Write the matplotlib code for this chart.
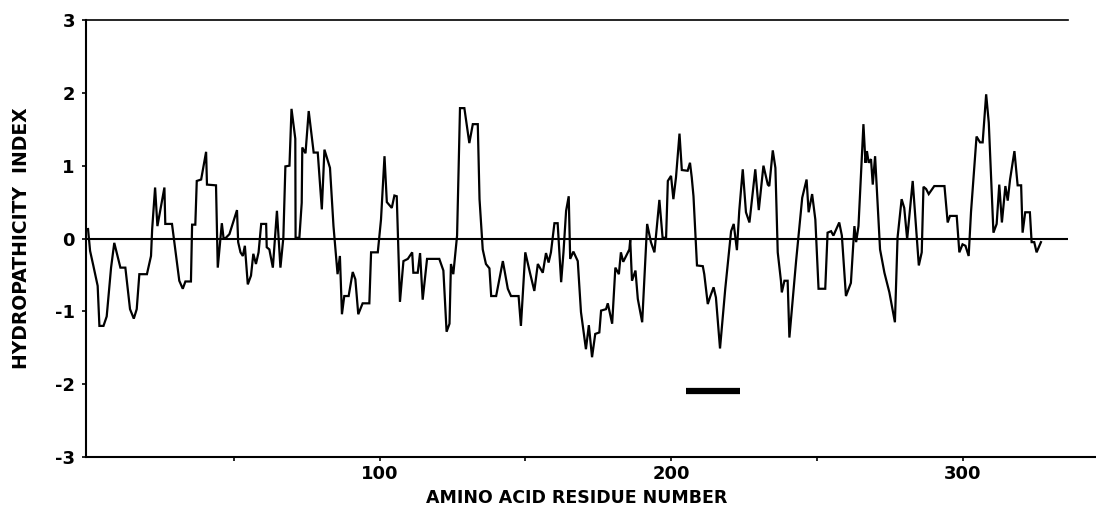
import matplotlib
matplotlib.use("Agg")
import matplotlib.pyplot as plt
from matplotlib.lines import Line2D

residue = [
    0, 0.7, 1.8, 3.3, 3.9, 5.3, 6.4, 7.9, 9.0, 11.1, 12.8, 14.4, 15.7, 16.7, 17.6, 20.2, 21.6, 22.0,
    23.0, 23.8, 26.2, 26.5, 28.8, 31.3, 32.5, 33.4, 35.3, 35.7, 36.8, 37.3, 38.8, 40.5, 40.8, 43.9,
    44.5, 45.9, 46.5, 47.3, 48.5, 51.1, 51.5, 52.3, 53.1, 53.8, 54.8, 55.9, 56.7, 57.6, 58.5, 59.4,
    61.1, 61.3, 62.2, 63.4, 64.8, 66.0, 67.0, 67.7, 69.1, 69.8, 71.1, 71.2, 72.5, 73.3, 73.5, 74.6,
    75.7, 77.4, 78.8, 80.2, 81.1, 83.0, 84.2, 85.6, 86.4, 87.1, 87.9, 89.4, 90.8, 91.7, 92.7, 94.2,
    96.5, 97.1, 99.4, 100.5, 101.7, 102.5, 104.2, 105.1, 105.9, 107.0, 108.2, 109.7, 111.2, 111.6,
    113.1, 113.9, 114.8, 116.3, 120.5, 121.9, 123.0, 124.0, 124.5, 125.3, 125.7, 126.6, 127.6, 129.1,
    130.8, 132.0, 133.7, 134.3, 135.4, 136.5, 137.7, 138.3, 140.0, 142.3, 144.0, 145.1, 147.7, 148.5,
    150.0, 151.6, 153.1, 154.3, 156.0, 157.1, 158.0, 158.8, 160.0, 161.1, 162.3, 163.1, 164.0, 164.9,
    165.4, 166.5, 168.0, 169.1, 170.8, 171.8, 172.9, 174.0, 175.4, 176.0, 177.7, 178.3, 179.8, 180.9,
    182.1, 182.8, 183.6, 185.7, 186.0, 186.6, 187.8, 188.6, 190.1, 191.8, 193.1, 194.3, 196.0, 197.1,
    198.3, 198.9, 200.0, 200.8, 201.7, 202.9, 203.7, 205.7, 206.5, 207.1, 207.7, 208.4, 208.9, 210.9,
    211.4, 212.6, 213.5, 214.6, 215.4, 216.8, 218.6, 220.6, 221.5, 222.6, 223.4, 224.6, 225.7, 226.9,
    228.9, 230.1, 231.7, 233.2, 233.7, 234.9, 235.8, 236.6, 237.7, 238.0, 238.9, 240.0, 240.6, 242.9,
    245.0, 246.5, 247.2, 248.4, 249.5, 250.6, 252.9, 253.7, 254.9, 255.7, 257.7, 258.6, 260.0, 261.7,
    262.9, 263.5, 264.3, 266.0, 266.7, 267.2, 267.8, 268.6, 269.2, 270.0, 271.7, 273.2, 274.9, 276.8,
    277.7, 279.1, 280.0, 281.0, 282.9, 285.0, 286.0, 286.6, 287.5, 288.4, 290.3, 293.8, 294.9, 295.7,
    298.0, 298.9, 300.0, 301.0, 302.1, 302.9, 304.8, 306.0, 306.9, 308.1, 309.0, 310.6, 311.7, 312.6,
    313.5, 314.7, 315.5, 316.3, 317.8, 318.9, 320.1, 320.6, 321.5, 323.1, 323.7, 324.6, 325.4, 326.9,
]
hydropathy = [
    0.13, -0.17, -0.37, -0.65, -1.2, -1.2, -1.07, -0.4, -0.06, -0.4, -0.4, -0.97, -1.1, -0.97, -0.49, -0.49, -0.24, 0.13,
    0.7, 0.17, 0.7, 0.2, 0.2, -0.58, -0.69, -0.59, -0.59, 0.19, 0.19, 0.79, 0.81, 1.19, 0.74, 0.73,
    -0.4, 0.21, 0.0, 0.01, 0.06, 0.39, -0.05, -0.19, -0.24, -0.1, -0.63, -0.51, -0.21, -0.35, -0.19, 0.2,
    0.2, -0.12, -0.15, -0.4, 0.38, -0.4, 0.01, 0.99, 1.0, 1.78, 1.37, 0.01, 0.01, 0.49, 1.25, 1.17,
    1.75, 1.18, 1.18, 0.4, 1.22, 0.97, 0.17, -0.49, -0.24, -1.04, -0.79, -0.79, -0.46, -0.56, -1.04, -0.89,
    -0.89, -0.19, -0.19, 0.26, 1.13, 0.5, 0.42, 0.59, 0.58, -0.87, -0.31, -0.28, -0.19, -0.47,
    -0.47, -0.2, -0.84, -0.28, -0.28, -0.44, -1.28, -1.17, -0.35, -0.49, -0.33, 0.04, 1.79, 1.79,
    1.31, 1.57, 1.57, 0.54, -0.15, -0.35, -0.41, -0.79, -0.79, -0.31, -0.69, -0.79, -0.79, -1.2,
    -0.19, -0.47, -0.72, -0.35, -0.47, -0.2, -0.33, -0.19, 0.21, 0.21, -0.6, -0.19, 0.38, 0.58,
    -0.28, -0.18, -0.31, -1.01, -1.52, -1.19, -1.63, -1.31, -1.29, -0.99, -0.97, -0.89, -1.17, -0.4,
    -0.49, -0.19, -0.32, -0.15, -0.02, -0.58, -0.44, -0.83, -1.15, 0.2, -0.05, -0.19, 0.53, 0.01,
    0.01, 0.79, 0.86, 0.54, 0.84, 1.44, 0.94, 0.93, 1.04, 0.84, 0.58, 0.01, -0.37, -0.38,
    -0.49, -0.9, -0.79, -0.67, -0.81, -1.51, -0.69, 0.1, 0.2, -0.16, 0.38, 0.95, 0.36, 0.22,
    0.95, 0.39, 1.0, 0.74, 0.72, 1.21, 0.97, -0.19, -0.58, -0.74, -0.58, -0.58, -1.36, -0.31,
    0.56, 0.81, 0.36, 0.61, 0.26, -0.69, -0.69, 0.08, 0.1, 0.04, 0.22, 0.04, -0.79, -0.61,
    0.17, -0.05, 0.17, 1.57, 1.04, 1.2, 1.04, 1.09, 0.74, 1.13, -0.15, -0.47, -0.74, -1.15,
    0.01, 0.54, 0.42, -0.01, 0.79, -0.37, -0.19, 0.71, 0.68, 0.61, 0.72, 0.72, 0.22, 0.31,
    0.31, -0.19, -0.08, -0.1, -0.24, 0.36, 1.4, 1.32, 1.32, 1.98, 1.59, 0.08, 0.2, 0.74,
    0.22, 0.72, 0.52, 0.81, 1.2, 0.73, 0.73, 0.08, 0.36, 0.36, -0.05, -0.05, -0.19, -0.05,
]
bar_start, bar_end, bar_level = 205.1, 223.7, -2.1

x_major = [100, 200, 300]
x_minor = [50, 150, 250]
y_ticks = [-3, -2, -1, 0, 1, 2, 3]

W, H = 1096, 514
fig = plt.figure(figsize=(W / 100, H / 100), dpi=100)
left, right, top, bottom = 86, 1068, 20, 457
ax = fig.add_axes([left / W, 1 - bottom / H, (right - left) / W, (bottom - top) / H])

x0 = -0.7
x1 = x0 + (right - left) / 2.915
ax.set_xlim(x0, x1)
ax.set_ylim(-3, 3)

ax.plot(residue, hydropathy, color="black", lw=1.6, solid_joinstyle="miter")
ax.axhline(0, color="black", lw=1.5)
ax.plot([bar_start, bar_end], [bar_level, bar_level], color="black", lw=4.5, solid_capstyle="butt")

for s in ["right", "bottom"]:
    ax.spines[s].set_visible(False)
ax.spines["left"].set_linewidth(1.5)
ax.spines["top"].set_linewidth(1.2)
fig.add_artist(Line2D([left / W, 1.0], [1 - bottom / H, 1 - bottom / H], color="black", lw=1.5))

fp = dict(family="DejaVu Sans", weight="bold", size=13)
ax.set_xticks(x_major)
ax.set_xticklabels([str(v) for v in x_major], fontdict=fp)
ax.set_xticks(x_minor, minor=True)
ax.set_yticks(y_ticks)
ax.set_yticklabels([str(v) for v in y_ticks], fontdict=fp)
ax.tick_params(axis="x", which="both", direction="out", length=3, width=1.2, pad=3)
ax.tick_params(axis="y", direction="out", length=3, width=1.2, pad=5)

lf = dict(family="DejaVu Sans", weight="bold", size=12.5)
ax.set_xlabel("AMINO ACID RESIDUE NUMBER", fontdict=lf, labelpad=4)
ax.set_ylabel("HYDROPATHICITY  INDEX", fontdict=dict(family="DejaVu Sans", weight="bold", size=13.5), labelpad=17)

fig.savefig("out.png", dpi=100, facecolor="white")
